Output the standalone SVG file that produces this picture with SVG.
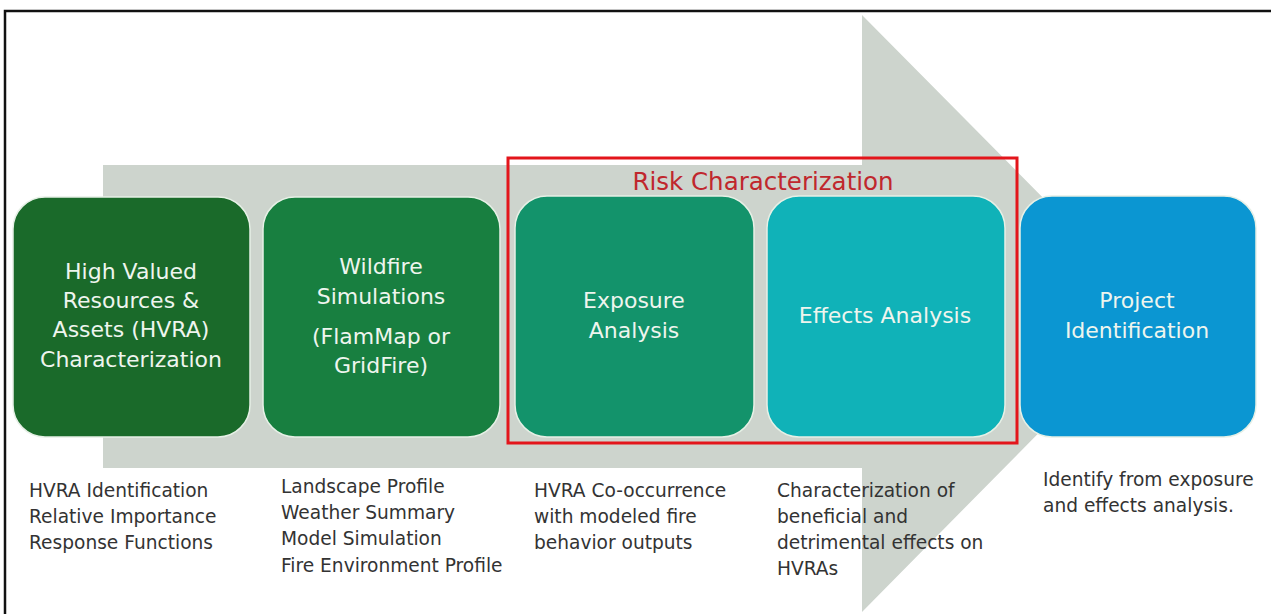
<svg xmlns="http://www.w3.org/2000/svg" width="1271" height="614" viewBox="0 0 1271 614">
<style>
.box{stroke:#e6f0e6;stroke-width:1.5}
.bt{font-family:"DejaVu Sans","Liberation Sans",Arial,sans-serif;font-size:22px;fill:#eef5ee;text-anchor:middle}
.st{font-family:"DejaVu Sans","Liberation Sans",Arial,sans-serif;font-size:18.6px;fill:#333333}
</style>
<rect x="0" y="0" width="1271" height="614" fill="#ffffff"/>
<rect x="5" y="11" width="1290" height="640" fill="none" stroke="#111111" stroke-width="2.5"/>
<g id="connectors">
<path id="big-arrow" d="M103,165 H862 V15 L1157,313 L862,612 V468 H103 Z" fill="#cdd4cd"/>
</g>
<g id="risk-group">
<rect x="508" y="158" width="509" height="285" fill="none" stroke="#e3151b" stroke-width="3"/>
<text x="763" y="190" font-family="DejaVu Sans,Liberation Sans,Arial,sans-serif" font-size="24.5" fill="#c0272d" text-anchor="middle">Risk Characterization</text>
</g>
<g id="hvra">
<rect class="box" x="13" y="197" width="237" height="240" rx="32" fill="#1a6a2a"/>
<text class="bt" x="131" y="279">High Valued</text>
<text class="bt" x="131" y="308">Resources &amp;</text>
<text class="bt" x="131" y="337">Assets (HVRA)</text>
<text class="bt" x="131" y="367">Characterization</text>
</g>
<g id="wildfire">
<rect class="box" x="263" y="197" width="237" height="240" rx="32" fill="#187f40"/>
<text class="bt" x="381" y="274">Wildfire</text>
<text class="bt" x="381" y="304">Simulations</text>
<text class="bt" x="381" y="344">(FlamMap or</text>
<text class="bt" x="381" y="373">GridFire)</text>
</g>
<g id="exposure">
<rect class="box" x="515" y="196" width="239" height="241" rx="32" fill="#13936b"/>
<text class="bt" x="634" y="308">Exposure</text>
<text class="bt" x="634" y="338">Analysis</text>
</g>
<g id="effects">
<rect class="box" x="767" y="196" width="238" height="241" rx="32" fill="#10b2b8"/>
<text class="bt" x="885" y="323">Effects Analysis</text>
</g>
<g id="project">
<rect class="box" x="1020" y="196" width="236" height="241" rx="32" fill="#0b96d2"/>
<text class="bt" x="1137" y="308">Project</text>
<text class="bt" x="1137" y="338">Identification</text>
</g>
<g id="desc-hvra">
<text class="st" x="29" y="497">HVRA Identification</text>
<text class="st" x="29" y="523">Relative Importance</text>
<text class="st" x="29" y="549">Response Functions</text>
</g>
<g id="desc-wildfire">
<text class="st" x="281" y="493">Landscape  Profile</text>
<text class="st" x="281" y="519">Weather Summary</text>
<text class="st" x="281" y="545">Model Simulation</text>
<text class="st" x="281" y="572">Fire Environment Profile</text>
</g>
<g id="desc-exposure">
<text class="st" x="534" y="497">HVRA Co-occurrence</text>
<text class="st" x="534" y="523">with modeled fire</text>
<text class="st" x="534" y="549">behavior outputs</text>
</g>
<g id="desc-effects">
<text class="st" x="777" y="497">Characterization of</text>
<text class="st" x="777" y="523">beneficial and</text>
<text class="st" x="777" y="549">detrimental effects on</text>
<text class="st" x="777" y="575">HVRAs</text>
</g>
<g id="desc-project">
<text class="st" x="1043" y="486">Identify from exposure</text>
<text class="st" x="1043" y="512">and effects analysis.</text>
</g>
</svg>
